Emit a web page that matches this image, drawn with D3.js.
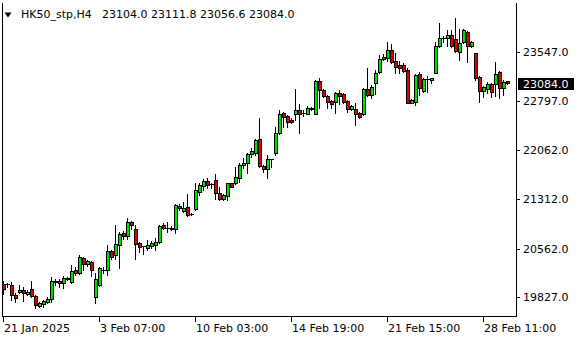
<!DOCTYPE html>
<html><head><meta charset="utf-8">
<script src="https://cdn.jsdelivr.net/npm/d3@7"></script>
<style>html,body{margin:0;padding:0;background:#fff;overflow:hidden}</style>
</head><body><svg id="c" width="580" height="340"></svg>
<script>
const symbolTitle = "HK50_stp,H4";
const lastOHLC = "23104.0 23111.8 23056.6 23084.0";

const opens = [20029,20029,20014,19862,19903,19938,19877,19948,19847,19700,19721,19760,19797,20064,20079,20039,20112,20064,20241,20191,
20419,20332,20357,19827,20014,20237,20241,20529,20469,20620,20807,20761,20964,20863,20655,20598,20579,20610,20620,20670,
20924,20873,20858,20858,21212,21140,21201,21090,21162,21429,21515,21591,21541,21606,21404,21318,21368,21556,21565,21641,
21838,21859,22000,22011,22223,21818,21768,21920,22011,22314,22627,22577,22516,22602,22675,22622,22614,22705,22614,23107,
22971,22880,22804,22793,22930,22910,22804,22690,22690,22627,22602,22981,22895,23072,23248,23436,23461,23577,23411,23350,
23350,23274,22778,22793,23213,22960,23133,23122,23233,23638,23764,23755,23805,23740,23552,23703,23855,23638,23527,23173,
22960,22986,23062,23062,23248,22997,23104.0];
const highs = [20074,20049,20064,19888,20014,19988,19938,20079,19862,19760,19786,19827,20139,20100,20100,20150,20139,20317,20291,20469,
20443,20393,20378,20191,20282,20291,20620,20544,20924,20822,20833,21025,20984,20924,20670,20607,20696,20681,20722,20924,
20949,20964,20908,21237,21237,21277,21389,21101,21556,21556,21617,21632,21564,21697,21495,21389,21565,21565,21799,21868,
21935,22020,22087,22223,22542,21833,21985,21924,22414,22668,22642,22592,22542,22981,22759,22660,22721,22710,23122,23148,
22981,22895,22819,22945,22971,22930,22819,22736,22769,22642,22997,23300,23047,23274,23502,23517,23703,23668,23536,23415,
23376,23300,22830,23209,23248,23148,23183,23150,23703,23991,23790,23881,23881,24058,23891,23891,23870,23718,23536,23183,
23031,23097,23072,23400,23264,23122,23111.8];
const lows = [19877,19988,19786,19760,19888,19776,19862,19836,19660,19675,19685,19745,19760,20014,19988,19964,20089,20039,20165,20176,
20241,20306,20155,19736,19998,20191,20165,20408,20408,20276,20711,20711,20863,20408,20510,20484,20544,20570,20544,20646,
20858,20822,20848,20807,21151,21125,21065,21075,21151,21379,21454,21485,21480,21318,21303,21303,21303,21495,21545,21582,
21793,21717,21959,21985,21799,21732,21632,21799,21985,22304,22414,22414,22475,22516,22323,22584,22607,22668,22607,22705,
22860,22705,22705,22627,22759,22778,22642,22675,22440,22542,22592,22880,22845,22910,23224,23426,23415,23376,23224,23224,
23248,22769,22769,22743,22895,22945,22945,23082,23224,23627,23703,23638,23627,23552,23426,23688,23400,23627,23122,22793,
22869,22921,22860,22880,22845,22895,23056.6];
const closes = [19950,20031,19862,19812,19938,19888,19912,19847,19710,19736,19771,19806,20074,20067,20039,20115,20117,20231,20191,20443,
20332,20378,20241,20100,20267,20244,20525,20443,20631,20783,20757,20964,20924,20640,20594,20605,20620,20655,20661,20908,
20873,20878,20883,21227,21177,21186,21075,21093,21454,21530,21586,21535,21542,21413,21313,21379,21556,21504,21647,21833,
21859,22000,22046,22213,21823,21768,21920,21921,22314,22607,22566,22490,22490,22668,22614,22625,22705,22680,23107,22971,
22880,22793,22754,22930,22884,22793,22690,22725,22614,22566,22981,22895,23012,23233,23436,23467,23577,23400,23324,23309,
23264,22778,22819,23198,22997,23133,23135,23148,23638,23764,23765,23805,23638,23567,23679,23881,23638,23703,23148,22960,
23012,23062,22945,23213,22997,23097,23084.0];

const xTickIndex = [0, 24, 48, 72, 96, 120];
const xTickLabels = ["21 Jan 2025", "3 Feb 07:00", "10 Feb 03:00", "14 Feb 19:00", "21 Feb 15:00", "28 Feb 11:00"];
const yTickValues = [23547, 22797, 22062, 21312, 20562, 19827];
const lastPrice = 23084.0;

const bars = opens.map((o, i) => ({i, o, h: highs[i], l: lows[i], c: closes[i]}));

const FONT = "DejaVu Sans";
const svg = d3.select("#c");
const frame = {left: 2.5, right: 516.5, top: 2.5, bottom: 316.5};

const x = d3.scaleLinear().domain([0, bars.length - 1]).range([3, 3 + 4 * (bars.length - 1)]);
const y = d3.scaleLinear().domain([19827, 23547]).range([297.3, 52]);
const py = v => Math.round(y(v));

const bull = "#00e000", bear = "#e00000";

const g = svg.append("g");

g.selectAll("g.candle").data(bars).join("g").attr("class", "candle").each(function (d) {
  const s = d3.select(this);
  const cx = x(d.i);
  const top = py(Math.max(d.o, d.c)), bot = py(Math.min(d.o, d.c));
  s.append("rect").attr("x", cx).attr("width", 1)
    .attr("y", py(d.h)).attr("height", py(d.l) - py(d.h) + 1).attr("fill", "#000");
  s.append("rect").attr("x", cx - 1).attr("width", 4)
    .attr("y", top).attr("height", bot - top + 1).attr("fill", "#000");
  if (bot - top > 1) {
    s.append("rect").attr("x", cx).attr("width", 2)
      .attr("y", top + 1).attr("height", bot - top - 1)
      .attr("fill", d.c >= d.o ? bull : bear);
  }
});

const fr = svg.append("g").attr("shape-rendering", "crispEdges").attr("stroke", "#000");
fr.append("line").attr("x1", frame.left).attr("x2", frame.left).attr("y1", frame.top).attr("y2", frame.bottom);
fr.append("line").attr("x1", frame.right).attr("x2", frame.right).attr("y1", frame.top).attr("y2", frame.bottom);
fr.append("line").attr("x1", frame.left).attr("x2", frame.right).attr("y1", frame.bottom).attr("y2", frame.bottom);

const yAxis = d3.axisRight(y).tickValues(yTickValues).tickSize(3).tickPadding(3.5)
  .tickFormat(d => d.toFixed(1));
const ya = svg.append("g").attr("transform", `translate(${frame.right},0)`).call(yAxis);
ya.select(".domain").remove();
ya.selectAll(".tick").attr("transform", d => `translate(0,${py(d) + 0.5})`);
ya.selectAll(".tick line").attr("stroke", "#000").attr("shape-rendering", "crispEdges");
ya.selectAll(".tick text").attr("font-family", FONT).attr("font-size", 11).attr("fill", "#000").attr("dy", "0.36em");

const cy = py(lastPrice);
svg.append("rect").attr("x", 518).attr("y", cy - 5).attr("width", 56).attr("height", 12).attr("fill", "#000");
svg.append("text").attr("x", 523).attr("y", cy + 5).attr("font-family", FONT).attr("font-size", 11)
  .attr("fill", "#fff").text(lastPrice.toFixed(1));

const xa = svg.append("g");
xa.selectAll("line").data(xTickIndex).join("line")
  .attr("x1", d => x(d) + 0.5).attr("x2", d => x(d) + 0.5).attr("y1", frame.bottom).attr("y2", frame.bottom + 5)
  .attr("stroke", "#000").attr("shape-rendering", "crispEdges");
xa.selectAll("text").data(xTickIndex).join("text")
  .attr("x", d => x(d) + 1).attr("y", 331.5)
  .attr("font-family", FONT).attr("font-size", 11).attr("fill", "#000")
  .text((d, k) => xTickLabels[k]);

svg.append("path").attr("d", "M4.5,12.5H11.5L8,17.5Z").attr("fill", "#000");
svg.append("text").attr("x", 21).attr("y", 18).attr("font-family", FONT).attr("font-size", 11).attr("fill", "#000").text(symbolTitle);
svg.append("text").attr("x", 102).attr("y", 18).attr("font-family", FONT).attr("font-size", 11).attr("fill", "#000").text(lastOHLC);
</script></body></html>
